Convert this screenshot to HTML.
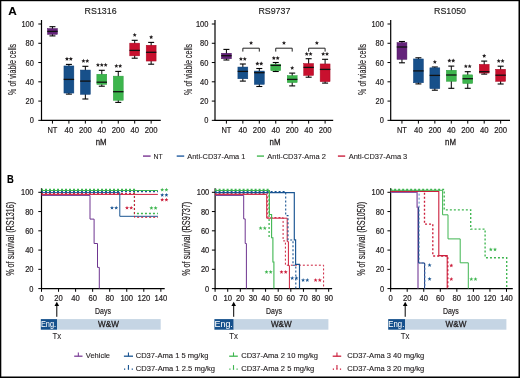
<!DOCTYPE html><html><head><meta charset="utf-8"><style>html,body{margin:0;padding:0;background:#fff;}svg{display:block;will-change:transform;}text{font-family:"Liberation Sans", sans-serif;}</style></head><body>
<svg width="520" height="378" viewBox="0 0 520 378">
<rect x="0" y="0" width="520" height="378" fill="#fff"/>
<text x="8.30" y="14.80" font-size="11.8" text-anchor="start" fill="#000" stroke="#000" stroke-width="0.1" textLength="8.5" lengthAdjust="spacingAndGlyphs" font-weight="bold" >A</text>
<text x="7.00" y="182.50" font-size="11.8" text-anchor="start" fill="#000" stroke="#000" stroke-width="0.15" textLength="6.8" lengthAdjust="spacingAndGlyphs" font-weight="bold" >B</text>
<line x1="41.50" y1="20.00" x2="41.50" y2="120.60" stroke="#000" stroke-width="1.2" />
<line x1="40.90" y1="120.35" x2="160.75" y2="120.35" stroke="#000" stroke-width="1.15" />
<line x1="38.30" y1="120.35" x2="41.50" y2="120.35" stroke="#000" stroke-width="1" />
<text x="33.90" y="123.35" font-size="9" text-anchor="end" fill="#231f20" stroke="#231f20" stroke-width="0.22" textLength="4.15" lengthAdjust="spacingAndGlyphs" >0</text>
<line x1="38.30" y1="101.08" x2="41.50" y2="101.08" stroke="#000" stroke-width="1" />
<text x="33.90" y="104.08" font-size="9" text-anchor="end" fill="#231f20" stroke="#231f20" stroke-width="0.22" textLength="8.3" lengthAdjust="spacingAndGlyphs" >20</text>
<line x1="38.30" y1="81.81" x2="41.50" y2="81.81" stroke="#000" stroke-width="1" />
<text x="33.90" y="84.81" font-size="9" text-anchor="end" fill="#231f20" stroke="#231f20" stroke-width="0.22" textLength="8.3" lengthAdjust="spacingAndGlyphs" >40</text>
<line x1="38.30" y1="62.54" x2="41.50" y2="62.54" stroke="#000" stroke-width="1" />
<text x="33.90" y="65.54" font-size="9" text-anchor="end" fill="#231f20" stroke="#231f20" stroke-width="0.22" textLength="8.3" lengthAdjust="spacingAndGlyphs" >60</text>
<line x1="38.30" y1="43.27" x2="41.50" y2="43.27" stroke="#000" stroke-width="1" />
<text x="33.90" y="46.27" font-size="9" text-anchor="end" fill="#231f20" stroke="#231f20" stroke-width="0.22" textLength="8.3" lengthAdjust="spacingAndGlyphs" >80</text>
<line x1="38.30" y1="24.00" x2="41.50" y2="24.00" stroke="#000" stroke-width="1" />
<text x="33.90" y="27.00" font-size="9" text-anchor="end" fill="#231f20" stroke="#231f20" stroke-width="0.22" textLength="12.45" lengthAdjust="spacingAndGlyphs" >100</text>
<line x1="52.45" y1="120.50" x2="52.45" y2="123.60" stroke="#000" stroke-width="1" />
<text x="52.45" y="132.70" font-size="9" text-anchor="middle" fill="#231f20" stroke="#231f20" stroke-width="0.22" textLength="9.9" lengthAdjust="spacingAndGlyphs" >NT</text>
<line x1="68.90" y1="120.50" x2="68.90" y2="123.60" stroke="#000" stroke-width="1" />
<text x="68.90" y="132.70" font-size="9" text-anchor="middle" fill="#231f20" stroke="#231f20" stroke-width="0.22" textLength="8.6" lengthAdjust="spacingAndGlyphs" >40</text>
<line x1="85.35" y1="120.50" x2="85.35" y2="123.60" stroke="#000" stroke-width="1" />
<text x="85.35" y="132.70" font-size="9" text-anchor="middle" fill="#231f20" stroke="#231f20" stroke-width="0.22" textLength="12.9" lengthAdjust="spacingAndGlyphs" >200</text>
<line x1="101.80" y1="120.50" x2="101.80" y2="123.60" stroke="#000" stroke-width="1" />
<text x="101.80" y="132.70" font-size="9" text-anchor="middle" fill="#231f20" stroke="#231f20" stroke-width="0.22" textLength="8.6" lengthAdjust="spacingAndGlyphs" >40</text>
<line x1="118.25" y1="120.50" x2="118.25" y2="123.60" stroke="#000" stroke-width="1" />
<text x="118.25" y="132.70" font-size="9" text-anchor="middle" fill="#231f20" stroke="#231f20" stroke-width="0.22" textLength="12.9" lengthAdjust="spacingAndGlyphs" >200</text>
<line x1="134.70" y1="120.50" x2="134.70" y2="123.60" stroke="#000" stroke-width="1" />
<text x="134.70" y="132.70" font-size="9" text-anchor="middle" fill="#231f20" stroke="#231f20" stroke-width="0.22" textLength="8.6" lengthAdjust="spacingAndGlyphs" >40</text>
<line x1="151.15" y1="120.50" x2="151.15" y2="123.60" stroke="#000" stroke-width="1" />
<text x="151.15" y="132.70" font-size="9" text-anchor="middle" fill="#231f20" stroke="#231f20" stroke-width="0.22" textLength="12.9" lengthAdjust="spacingAndGlyphs" >200</text>
<text x="101.20" y="145.30" font-size="9.3" text-anchor="middle" fill="#231f20" stroke="#231f20" stroke-width="0.3" textLength="10.9" lengthAdjust="spacingAndGlyphs" >nM</text>
<text x="100.60" y="13.70" font-size="9.9" text-anchor="middle" fill="#222" stroke="#222" stroke-width="0.15" textLength="32" lengthAdjust="spacingAndGlyphs" >RS1316</text>
<text transform="translate(15.6,69.4) rotate(-90)" x="0" y="0" font-size="10.6" text-anchor="middle" fill="#231f20" stroke="#231f20" stroke-width="0.15" textLength="51" lengthAdjust="spacingAndGlyphs">% of viable cells</text>
<line x1="52.45" y1="26.70" x2="52.45" y2="35.90" stroke="#000" stroke-width="1" />
<line x1="49.45" y1="26.70" x2="55.45" y2="26.70" stroke="#000" stroke-width="1.1" />
<line x1="49.45" y1="35.90" x2="55.45" y2="35.90" stroke="#000" stroke-width="1.1" />
<rect x="47.50" y="28.55" width="9.9" height="5.80" fill="#64237a" stroke="#4b1660" stroke-width="0.5"/>
<line x1="47.25" y1="31.40" x2="57.65" y2="31.40" stroke="#111" stroke-width="1.3" />
<line x1="68.90" y1="64.40" x2="68.90" y2="94.10" stroke="#000" stroke-width="1" />
<line x1="65.90" y1="64.40" x2="71.90" y2="64.40" stroke="#000" stroke-width="1.1" />
<line x1="65.90" y1="94.10" x2="71.90" y2="94.10" stroke="#000" stroke-width="1.1" />
<rect x="63.95" y="65.95" width="9.9" height="27.10" fill="#17508a" stroke="#0c3f78" stroke-width="0.5"/>
<line x1="63.70" y1="79.40" x2="74.10" y2="79.40" stroke="#111" stroke-width="1.3" />
<line x1="85.35" y1="66.30" x2="85.35" y2="99.00" stroke="#000" stroke-width="1" />
<line x1="82.35" y1="66.30" x2="88.35" y2="66.30" stroke="#000" stroke-width="1.1" />
<line x1="82.35" y1="99.00" x2="88.35" y2="99.00" stroke="#000" stroke-width="1.1" />
<rect x="80.40" y="70.05" width="9.9" height="24.30" fill="#17508a" stroke="#0c3f78" stroke-width="0.5"/>
<line x1="80.15" y1="81.10" x2="90.55" y2="81.10" stroke="#111" stroke-width="1.3" />
<line x1="101.80" y1="70.30" x2="101.80" y2="86.20" stroke="#000" stroke-width="1" />
<line x1="98.80" y1="70.30" x2="104.80" y2="70.30" stroke="#000" stroke-width="1.1" />
<line x1="98.80" y1="86.20" x2="104.80" y2="86.20" stroke="#000" stroke-width="1.1" />
<rect x="96.85" y="74.25" width="9.9" height="10.10" fill="#3db54d" stroke="#2a9e3c" stroke-width="0.5"/>
<line x1="96.60" y1="82.20" x2="107.00" y2="82.20" stroke="#111" stroke-width="1.3" />
<line x1="118.25" y1="71.40" x2="118.25" y2="102.40" stroke="#000" stroke-width="1" />
<line x1="115.25" y1="71.40" x2="121.25" y2="71.40" stroke="#000" stroke-width="1.1" />
<line x1="115.25" y1="102.40" x2="121.25" y2="102.40" stroke="#000" stroke-width="1.1" />
<rect x="113.30" y="76.15" width="9.9" height="24.10" fill="#3db54d" stroke="#2a9e3c" stroke-width="0.5"/>
<line x1="113.05" y1="91.70" x2="123.45" y2="91.70" stroke="#111" stroke-width="1.3" />
<line x1="134.70" y1="40.30" x2="134.70" y2="58.20" stroke="#000" stroke-width="1" />
<line x1="131.70" y1="40.30" x2="137.70" y2="40.30" stroke="#000" stroke-width="1.1" />
<line x1="131.70" y1="58.20" x2="137.70" y2="58.20" stroke="#000" stroke-width="1.1" />
<rect x="129.75" y="43.15" width="9.9" height="12.70" fill="#c8102e" stroke="#a80a25" stroke-width="0.5"/>
<line x1="129.50" y1="50.40" x2="139.90" y2="50.40" stroke="#111" stroke-width="1.3" />
<line x1="151.15" y1="42.40" x2="151.15" y2="64.20" stroke="#000" stroke-width="1" />
<line x1="148.15" y1="42.40" x2="154.15" y2="42.40" stroke="#000" stroke-width="1.1" />
<line x1="148.15" y1="64.20" x2="154.15" y2="64.20" stroke="#000" stroke-width="1.1" />
<rect x="146.20" y="45.25" width="9.9" height="15.80" fill="#c8102e" stroke="#a80a25" stroke-width="0.5"/>
<line x1="145.95" y1="52.30" x2="156.35" y2="52.30" stroke="#111" stroke-width="1.3" />
<polygon points="66.98,56.75 67.58,58.07 69.02,58.24 67.96,59.22 68.24,60.64 66.98,59.93 65.71,60.64 65.99,59.22 64.93,58.24 66.37,58.07" fill="#231f20"/>
<polygon points="70.83,56.75 71.43,58.07 72.87,58.24 71.81,59.22 72.09,60.64 70.83,59.93 69.56,60.64 69.84,59.22 68.78,58.24 70.22,58.07" fill="#231f20"/>
<polygon points="83.42,58.85 84.03,60.17 85.47,60.34 84.41,61.32 84.69,62.74 83.42,62.03 82.16,62.74 82.44,61.32 81.38,60.34 82.82,60.17" fill="#231f20"/>
<polygon points="87.27,58.85 87.88,60.17 89.32,60.34 88.26,61.32 88.54,62.74 87.27,62.03 86.01,62.74 86.29,61.32 85.23,60.34 86.67,60.17" fill="#231f20"/>
<polygon points="97.95,62.85 98.56,64.17 99.99,64.34 98.93,65.32 99.21,66.74 97.95,66.03 96.69,66.74 96.97,65.32 95.91,64.34 97.34,64.17" fill="#231f20"/>
<polygon points="101.80,62.85 102.41,64.17 103.84,64.34 102.78,65.32 103.06,66.74 101.80,66.03 100.54,66.74 100.82,65.32 99.76,64.34 101.19,64.17" fill="#231f20"/>
<polygon points="105.65,62.85 106.26,64.17 107.69,64.34 106.63,65.32 106.91,66.74 105.65,66.03 104.39,66.74 104.67,65.32 103.61,64.34 105.04,64.17" fill="#231f20"/>
<polygon points="116.33,63.85 116.93,65.17 118.37,65.34 117.31,66.32 117.59,67.74 116.33,67.03 115.06,67.74 115.34,66.32 114.28,65.34 115.72,65.17" fill="#231f20"/>
<polygon points="120.17,63.85 120.78,65.17 122.22,65.34 121.16,66.32 121.44,67.74 120.17,67.03 118.91,67.74 119.19,66.32 118.13,65.34 119.57,65.17" fill="#231f20"/>
<polygon points="134.70,32.85 135.31,34.17 136.74,34.34 135.68,35.32 135.96,36.74 134.70,36.03 133.44,36.74 133.72,35.32 132.66,34.34 134.09,34.17" fill="#231f20"/>
<polygon points="151.15,35.05 151.76,36.37 153.19,36.54 152.13,37.52 152.41,38.94 151.15,38.23 149.89,38.94 150.17,37.52 149.11,36.54 150.54,36.37" fill="#231f20"/>
<line x1="215.00" y1="20.00" x2="215.00" y2="120.60" stroke="#000" stroke-width="1.2" />
<line x1="214.40" y1="120.35" x2="333.20" y2="120.35" stroke="#000" stroke-width="1.15" />
<line x1="211.80" y1="120.35" x2="215.00" y2="120.35" stroke="#000" stroke-width="1" />
<text x="208.40" y="123.35" font-size="9" text-anchor="end" fill="#231f20" stroke="#231f20" stroke-width="0.22" textLength="4.15" lengthAdjust="spacingAndGlyphs" >0</text>
<line x1="211.80" y1="101.08" x2="215.00" y2="101.08" stroke="#000" stroke-width="1" />
<text x="208.40" y="104.08" font-size="9" text-anchor="end" fill="#231f20" stroke="#231f20" stroke-width="0.22" textLength="8.3" lengthAdjust="spacingAndGlyphs" >20</text>
<line x1="211.80" y1="81.81" x2="215.00" y2="81.81" stroke="#000" stroke-width="1" />
<text x="208.40" y="84.81" font-size="9" text-anchor="end" fill="#231f20" stroke="#231f20" stroke-width="0.22" textLength="8.3" lengthAdjust="spacingAndGlyphs" >40</text>
<line x1="211.80" y1="62.54" x2="215.00" y2="62.54" stroke="#000" stroke-width="1" />
<text x="208.40" y="65.54" font-size="9" text-anchor="end" fill="#231f20" stroke="#231f20" stroke-width="0.22" textLength="8.3" lengthAdjust="spacingAndGlyphs" >60</text>
<line x1="211.80" y1="43.27" x2="215.00" y2="43.27" stroke="#000" stroke-width="1" />
<text x="208.40" y="46.27" font-size="9" text-anchor="end" fill="#231f20" stroke="#231f20" stroke-width="0.22" textLength="8.3" lengthAdjust="spacingAndGlyphs" >80</text>
<line x1="211.80" y1="24.00" x2="215.00" y2="24.00" stroke="#000" stroke-width="1" />
<text x="208.40" y="27.00" font-size="9" text-anchor="end" fill="#231f20" stroke="#231f20" stroke-width="0.22" textLength="12.45" lengthAdjust="spacingAndGlyphs" >100</text>
<line x1="226.40" y1="120.50" x2="226.40" y2="123.60" stroke="#000" stroke-width="1" />
<text x="226.40" y="132.70" font-size="9" text-anchor="middle" fill="#231f20" stroke="#231f20" stroke-width="0.22" textLength="9.9" lengthAdjust="spacingAndGlyphs" >NT</text>
<line x1="242.85" y1="120.50" x2="242.85" y2="123.60" stroke="#000" stroke-width="1" />
<text x="242.85" y="132.70" font-size="9" text-anchor="middle" fill="#231f20" stroke="#231f20" stroke-width="0.22" textLength="8.6" lengthAdjust="spacingAndGlyphs" >40</text>
<line x1="259.30" y1="120.50" x2="259.30" y2="123.60" stroke="#000" stroke-width="1" />
<text x="259.30" y="132.70" font-size="9" text-anchor="middle" fill="#231f20" stroke="#231f20" stroke-width="0.22" textLength="12.9" lengthAdjust="spacingAndGlyphs" >200</text>
<line x1="275.75" y1="120.50" x2="275.75" y2="123.60" stroke="#000" stroke-width="1" />
<text x="275.75" y="132.70" font-size="9" text-anchor="middle" fill="#231f20" stroke="#231f20" stroke-width="0.22" textLength="8.6" lengthAdjust="spacingAndGlyphs" >40</text>
<line x1="292.20" y1="120.50" x2="292.20" y2="123.60" stroke="#000" stroke-width="1" />
<text x="292.20" y="132.70" font-size="9" text-anchor="middle" fill="#231f20" stroke="#231f20" stroke-width="0.22" textLength="12.9" lengthAdjust="spacingAndGlyphs" >200</text>
<line x1="308.65" y1="120.50" x2="308.65" y2="123.60" stroke="#000" stroke-width="1" />
<text x="308.65" y="132.70" font-size="9" text-anchor="middle" fill="#231f20" stroke="#231f20" stroke-width="0.22" textLength="8.6" lengthAdjust="spacingAndGlyphs" >40</text>
<line x1="325.10" y1="120.50" x2="325.10" y2="123.60" stroke="#000" stroke-width="1" />
<text x="325.10" y="132.70" font-size="9" text-anchor="middle" fill="#231f20" stroke="#231f20" stroke-width="0.22" textLength="12.9" lengthAdjust="spacingAndGlyphs" >200</text>
<text x="275.00" y="145.30" font-size="9.3" text-anchor="middle" fill="#231f20" stroke="#231f20" stroke-width="0.3" textLength="10.9" lengthAdjust="spacingAndGlyphs" >nM</text>
<text x="274.40" y="13.70" font-size="9.9" text-anchor="middle" fill="#222" stroke="#222" stroke-width="0.15" textLength="32" lengthAdjust="spacingAndGlyphs" >RS9737</text>
<text transform="translate(192.2,69.4) rotate(-90)" x="0" y="0" font-size="10.6" text-anchor="middle" fill="#231f20" stroke="#231f20" stroke-width="0.15" textLength="51" lengthAdjust="spacingAndGlyphs">% of viable cells</text>
<line x1="226.40" y1="49.40" x2="226.40" y2="60.00" stroke="#000" stroke-width="1" />
<line x1="223.40" y1="49.40" x2="229.40" y2="49.40" stroke="#000" stroke-width="1.1" />
<line x1="223.40" y1="60.00" x2="229.40" y2="60.00" stroke="#000" stroke-width="1.1" />
<rect x="221.45" y="53.25" width="9.9" height="5.50" fill="#64237a" stroke="#4b1660" stroke-width="0.5"/>
<line x1="221.20" y1="55.70" x2="231.60" y2="55.70" stroke="#111" stroke-width="1.3" />
<line x1="242.85" y1="64.00" x2="242.85" y2="81.10" stroke="#000" stroke-width="1" />
<line x1="239.85" y1="64.00" x2="245.85" y2="64.00" stroke="#000" stroke-width="1.1" />
<line x1="239.85" y1="81.10" x2="245.85" y2="81.10" stroke="#000" stroke-width="1.1" />
<rect x="237.90" y="67.05" width="9.9" height="11.70" fill="#17508a" stroke="#0c3f78" stroke-width="0.5"/>
<line x1="237.65" y1="71.40" x2="248.05" y2="71.40" stroke="#111" stroke-width="1.3" />
<line x1="259.30" y1="68.50" x2="259.30" y2="86.50" stroke="#000" stroke-width="1" />
<line x1="256.30" y1="68.50" x2="262.30" y2="68.50" stroke="#000" stroke-width="1.1" />
<line x1="256.30" y1="86.50" x2="262.30" y2="86.50" stroke="#000" stroke-width="1.1" />
<rect x="254.35" y="71.05" width="9.9" height="13.30" fill="#17508a" stroke="#0c3f78" stroke-width="0.5"/>
<line x1="254.10" y1="72.70" x2="264.50" y2="72.70" stroke="#111" stroke-width="1.3" />
<line x1="275.75" y1="62.50" x2="275.75" y2="71.50" stroke="#000" stroke-width="1" />
<line x1="272.75" y1="62.50" x2="278.75" y2="62.50" stroke="#000" stroke-width="1.1" />
<line x1="272.75" y1="71.50" x2="278.75" y2="71.50" stroke="#000" stroke-width="1.1" />
<rect x="270.80" y="64.15" width="9.9" height="6.50" fill="#3db54d" stroke="#2a9e3c" stroke-width="0.5"/>
<line x1="270.55" y1="65.40" x2="280.95" y2="65.40" stroke="#111" stroke-width="1.3" />
<line x1="292.20" y1="73.10" x2="292.20" y2="85.90" stroke="#000" stroke-width="1" />
<line x1="289.20" y1="73.10" x2="295.20" y2="73.10" stroke="#000" stroke-width="1.1" />
<line x1="289.20" y1="85.90" x2="295.20" y2="85.90" stroke="#000" stroke-width="1.1" />
<rect x="287.25" y="75.65" width="9.9" height="6.90" fill="#3db54d" stroke="#2a9e3c" stroke-width="0.5"/>
<line x1="287.00" y1="79.40" x2="297.40" y2="79.40" stroke="#111" stroke-width="1.3" />
<line x1="308.65" y1="58.70" x2="308.65" y2="77.20" stroke="#000" stroke-width="1" />
<line x1="305.65" y1="58.70" x2="311.65" y2="58.70" stroke="#000" stroke-width="1.1" />
<line x1="305.65" y1="77.20" x2="311.65" y2="77.20" stroke="#000" stroke-width="1.1" />
<rect x="303.70" y="63.55" width="9.9" height="11.90" fill="#c8102e" stroke="#a80a25" stroke-width="0.5"/>
<line x1="303.45" y1="67.40" x2="313.85" y2="67.40" stroke="#111" stroke-width="1.3" />
<line x1="325.10" y1="59.30" x2="325.10" y2="83.10" stroke="#000" stroke-width="1" />
<line x1="322.10" y1="59.30" x2="328.10" y2="59.30" stroke="#000" stroke-width="1.1" />
<line x1="322.10" y1="83.10" x2="328.10" y2="83.10" stroke="#000" stroke-width="1.1" />
<rect x="320.15" y="63.95" width="9.9" height="17.70" fill="#c8102e" stroke="#a80a25" stroke-width="0.5"/>
<line x1="319.90" y1="69.40" x2="330.30" y2="69.40" stroke="#111" stroke-width="1.3" />
<polygon points="240.92,56.85 241.53,58.17 242.97,58.34 241.91,59.32 242.19,60.74 240.92,60.03 239.66,60.74 239.94,59.32 238.88,58.34 240.32,58.17" fill="#231f20"/>
<polygon points="244.77,56.85 245.38,58.17 246.82,58.34 245.76,59.32 246.04,60.74 244.77,60.03 243.51,60.74 243.79,59.32 242.73,58.34 244.17,58.17" fill="#231f20"/>
<polygon points="257.38,61.55 257.98,62.87 259.42,63.04 258.36,64.02 258.64,65.44 257.38,64.73 256.11,65.44 256.39,64.02 255.33,63.04 256.77,62.87" fill="#231f20"/>
<polygon points="261.23,61.55 261.83,62.87 263.27,63.04 262.21,64.02 262.49,65.44 261.23,64.73 259.96,65.44 260.24,64.02 259.18,63.04 260.62,62.87" fill="#231f20"/>
<polygon points="273.82,55.95 274.43,57.27 275.87,57.44 274.81,58.42 275.09,59.84 273.82,59.13 272.56,59.84 272.84,58.42 271.78,57.44 273.22,57.27" fill="#231f20"/>
<polygon points="277.68,55.95 278.28,57.27 279.72,57.44 278.66,58.42 278.94,59.84 277.68,59.13 276.41,59.84 276.69,58.42 275.63,57.44 277.07,57.27" fill="#231f20"/>
<polygon points="292.20,65.85 292.81,67.17 294.24,67.34 293.18,68.32 293.46,69.74 292.20,69.03 290.94,69.74 291.22,68.32 290.16,67.34 291.59,67.17" fill="#231f20"/>
<polygon points="306.72,51.85 307.33,53.17 308.77,53.34 307.71,54.32 307.99,55.74 306.72,55.03 305.46,55.74 305.74,54.32 304.68,53.34 306.12,53.17" fill="#231f20"/>
<polygon points="310.57,51.85 311.18,53.17 312.62,53.34 311.56,54.32 311.84,55.74 310.57,55.03 309.31,55.74 309.59,54.32 308.53,53.34 309.97,53.17" fill="#231f20"/>
<polygon points="323.18,51.85 323.78,53.17 325.22,53.34 324.16,54.32 324.44,55.74 323.18,55.03 321.91,55.74 322.19,54.32 321.13,53.34 322.57,53.17" fill="#231f20"/>
<polygon points="327.03,51.85 327.63,53.17 329.07,53.34 328.01,54.32 328.29,55.74 327.03,55.03 325.76,55.74 326.04,54.32 324.98,53.34 326.42,53.17" fill="#231f20"/>
<polyline points="242.85,51.60 242.85,48.20 259.30,48.20 259.30,51.60" fill="none" stroke="#222" stroke-width="1" />
<polygon points="251.07,40.85 251.68,42.17 253.12,42.34 252.06,43.32 252.34,44.74 251.07,44.03 249.81,44.74 250.09,43.32 249.03,42.34 250.47,42.17" fill="#231f20"/>
<polyline points="275.75,51.60 275.75,48.20 292.20,48.20 292.20,51.60" fill="none" stroke="#222" stroke-width="1" />
<polygon points="283.98,40.85 284.58,42.17 286.02,42.34 284.96,43.32 285.24,44.74 283.98,44.03 282.71,44.74 282.99,43.32 281.93,42.34 283.37,42.17" fill="#231f20"/>
<polyline points="308.65,51.60 308.65,48.20 325.10,48.20 325.10,51.60" fill="none" stroke="#222" stroke-width="1" />
<polygon points="316.88,40.85 317.48,42.17 318.92,42.34 317.86,43.32 318.14,44.74 316.88,44.03 315.61,44.74 315.89,43.32 314.83,42.34 316.27,42.17" fill="#231f20"/>
<line x1="390.70" y1="20.00" x2="390.70" y2="120.60" stroke="#000" stroke-width="1.2" />
<line x1="390.10" y1="120.35" x2="510.00" y2="120.35" stroke="#000" stroke-width="1.15" />
<line x1="387.50" y1="120.35" x2="390.70" y2="120.35" stroke="#000" stroke-width="1" />
<text x="383.90" y="123.35" font-size="9" text-anchor="end" fill="#231f20" stroke="#231f20" stroke-width="0.22" textLength="4.15" lengthAdjust="spacingAndGlyphs" >0</text>
<line x1="387.50" y1="101.08" x2="390.70" y2="101.08" stroke="#000" stroke-width="1" />
<text x="383.90" y="104.08" font-size="9" text-anchor="end" fill="#231f20" stroke="#231f20" stroke-width="0.22" textLength="8.3" lengthAdjust="spacingAndGlyphs" >20</text>
<line x1="387.50" y1="81.81" x2="390.70" y2="81.81" stroke="#000" stroke-width="1" />
<text x="383.90" y="84.81" font-size="9" text-anchor="end" fill="#231f20" stroke="#231f20" stroke-width="0.22" textLength="8.3" lengthAdjust="spacingAndGlyphs" >40</text>
<line x1="387.50" y1="62.54" x2="390.70" y2="62.54" stroke="#000" stroke-width="1" />
<text x="383.90" y="65.54" font-size="9" text-anchor="end" fill="#231f20" stroke="#231f20" stroke-width="0.22" textLength="8.3" lengthAdjust="spacingAndGlyphs" >60</text>
<line x1="387.50" y1="43.27" x2="390.70" y2="43.27" stroke="#000" stroke-width="1" />
<text x="383.90" y="46.27" font-size="9" text-anchor="end" fill="#231f20" stroke="#231f20" stroke-width="0.22" textLength="8.3" lengthAdjust="spacingAndGlyphs" >80</text>
<line x1="387.50" y1="24.00" x2="390.70" y2="24.00" stroke="#000" stroke-width="1" />
<text x="383.90" y="27.00" font-size="9" text-anchor="end" fill="#231f20" stroke="#231f20" stroke-width="0.22" textLength="12.45" lengthAdjust="spacingAndGlyphs" >100</text>
<line x1="401.95" y1="120.50" x2="401.95" y2="123.60" stroke="#000" stroke-width="1" />
<text x="401.95" y="132.70" font-size="9" text-anchor="middle" fill="#231f20" stroke="#231f20" stroke-width="0.22" textLength="9.9" lengthAdjust="spacingAndGlyphs" >NT</text>
<line x1="418.40" y1="120.50" x2="418.40" y2="123.60" stroke="#000" stroke-width="1" />
<text x="418.40" y="132.70" font-size="9" text-anchor="middle" fill="#231f20" stroke="#231f20" stroke-width="0.22" textLength="8.6" lengthAdjust="spacingAndGlyphs" >40</text>
<line x1="434.85" y1="120.50" x2="434.85" y2="123.60" stroke="#000" stroke-width="1" />
<text x="434.85" y="132.70" font-size="9" text-anchor="middle" fill="#231f20" stroke="#231f20" stroke-width="0.22" textLength="12.9" lengthAdjust="spacingAndGlyphs" >200</text>
<line x1="451.30" y1="120.50" x2="451.30" y2="123.60" stroke="#000" stroke-width="1" />
<text x="451.30" y="132.70" font-size="9" text-anchor="middle" fill="#231f20" stroke="#231f20" stroke-width="0.22" textLength="8.6" lengthAdjust="spacingAndGlyphs" >40</text>
<line x1="467.75" y1="120.50" x2="467.75" y2="123.60" stroke="#000" stroke-width="1" />
<text x="467.75" y="132.70" font-size="9" text-anchor="middle" fill="#231f20" stroke="#231f20" stroke-width="0.22" textLength="12.9" lengthAdjust="spacingAndGlyphs" >200</text>
<line x1="484.20" y1="120.50" x2="484.20" y2="123.60" stroke="#000" stroke-width="1" />
<text x="484.20" y="132.70" font-size="9" text-anchor="middle" fill="#231f20" stroke="#231f20" stroke-width="0.22" textLength="8.6" lengthAdjust="spacingAndGlyphs" >40</text>
<line x1="500.65" y1="120.50" x2="500.65" y2="123.60" stroke="#000" stroke-width="1" />
<text x="500.65" y="132.70" font-size="9" text-anchor="middle" fill="#231f20" stroke="#231f20" stroke-width="0.22" textLength="12.9" lengthAdjust="spacingAndGlyphs" >200</text>
<text x="450.50" y="145.30" font-size="9.3" text-anchor="middle" fill="#231f20" stroke="#231f20" stroke-width="0.3" textLength="10.9" lengthAdjust="spacingAndGlyphs" >nM</text>
<text x="450.00" y="13.70" font-size="9.9" text-anchor="middle" fill="#222" stroke="#222" stroke-width="0.15" textLength="32" lengthAdjust="spacingAndGlyphs" >RS1050</text>
<text transform="translate(366.3,69.4) rotate(-90)" x="0" y="0" font-size="10.6" text-anchor="middle" fill="#231f20" stroke="#231f20" stroke-width="0.15" textLength="51" lengthAdjust="spacingAndGlyphs">% of viable cells</text>
<line x1="401.95" y1="41.50" x2="401.95" y2="62.80" stroke="#000" stroke-width="1" />
<line x1="398.95" y1="41.50" x2="404.95" y2="41.50" stroke="#000" stroke-width="1.1" />
<line x1="398.95" y1="62.80" x2="404.95" y2="62.80" stroke="#000" stroke-width="1.1" />
<rect x="397.00" y="42.65" width="9.9" height="16.70" fill="#64237a" stroke="#4b1660" stroke-width="0.5"/>
<line x1="396.75" y1="47.00" x2="407.15" y2="47.00" stroke="#111" stroke-width="1.3" />
<line x1="418.40" y1="57.80" x2="418.40" y2="83.90" stroke="#000" stroke-width="1" />
<line x1="415.40" y1="57.80" x2="421.40" y2="57.80" stroke="#000" stroke-width="1.1" />
<line x1="415.40" y1="83.90" x2="421.40" y2="83.90" stroke="#000" stroke-width="1.1" />
<rect x="413.45" y="58.95" width="9.9" height="23.80" fill="#17508a" stroke="#0c3f78" stroke-width="0.5"/>
<line x1="413.20" y1="70.90" x2="423.60" y2="70.90" stroke="#111" stroke-width="1.3" />
<line x1="434.85" y1="67.00" x2="434.85" y2="90.20" stroke="#000" stroke-width="1" />
<line x1="431.85" y1="67.00" x2="437.85" y2="67.00" stroke="#000" stroke-width="1.1" />
<line x1="431.85" y1="90.20" x2="437.85" y2="90.20" stroke="#000" stroke-width="1.1" />
<rect x="429.90" y="67.85" width="9.9" height="20.80" fill="#17508a" stroke="#0c3f78" stroke-width="0.5"/>
<line x1="429.65" y1="75.40" x2="440.05" y2="75.40" stroke="#111" stroke-width="1.3" />
<line x1="451.30" y1="66.10" x2="451.30" y2="88.30" stroke="#000" stroke-width="1" />
<line x1="448.30" y1="66.10" x2="454.30" y2="66.10" stroke="#000" stroke-width="1.1" />
<line x1="448.30" y1="88.30" x2="454.30" y2="88.30" stroke="#000" stroke-width="1.1" />
<rect x="446.35" y="70.25" width="9.9" height="11.00" fill="#3db54d" stroke="#2a9e3c" stroke-width="0.5"/>
<line x1="446.10" y1="75.00" x2="456.50" y2="75.00" stroke="#111" stroke-width="1.3" />
<line x1="467.75" y1="71.70" x2="467.75" y2="88.30" stroke="#000" stroke-width="1" />
<line x1="464.75" y1="71.70" x2="470.75" y2="71.70" stroke="#000" stroke-width="1.1" />
<line x1="464.75" y1="88.30" x2="470.75" y2="88.30" stroke="#000" stroke-width="1.1" />
<rect x="462.80" y="74.85" width="9.9" height="8.60" fill="#3db54d" stroke="#2a9e3c" stroke-width="0.5"/>
<line x1="462.55" y1="78.70" x2="472.95" y2="78.70" stroke="#111" stroke-width="1.3" />
<line x1="484.20" y1="61.10" x2="484.20" y2="74.10" stroke="#000" stroke-width="1" />
<line x1="481.20" y1="61.10" x2="487.20" y2="61.10" stroke="#000" stroke-width="1.1" />
<line x1="481.20" y1="74.10" x2="487.20" y2="74.10" stroke="#000" stroke-width="1.1" />
<rect x="479.25" y="64.35" width="9.9" height="8.70" fill="#c8102e" stroke="#a80a25" stroke-width="0.5"/>
<line x1="479.00" y1="71.70" x2="489.40" y2="71.70" stroke="#111" stroke-width="1.3" />
<line x1="500.65" y1="66.20" x2="500.65" y2="84.00" stroke="#000" stroke-width="1" />
<line x1="497.65" y1="66.20" x2="503.65" y2="66.20" stroke="#000" stroke-width="1.1" />
<line x1="497.65" y1="84.00" x2="503.65" y2="84.00" stroke="#000" stroke-width="1.1" />
<rect x="495.70" y="69.25" width="9.9" height="12.10" fill="#c8102e" stroke="#a80a25" stroke-width="0.5"/>
<line x1="495.45" y1="75.20" x2="505.85" y2="75.20" stroke="#111" stroke-width="1.3" />
<polygon points="434.85,59.85 435.46,61.17 436.89,61.34 435.83,62.32 436.11,63.74 434.85,63.03 433.59,63.74 433.87,62.32 432.81,61.34 434.24,61.17" fill="#231f20"/>
<polygon points="449.37,58.55 449.98,59.87 451.42,60.04 450.36,61.02 450.64,62.44 449.37,61.73 448.11,62.44 448.39,61.02 447.33,60.04 448.77,59.87" fill="#231f20"/>
<polygon points="453.22,58.55 453.83,59.87 455.27,60.04 454.21,61.02 454.49,62.44 453.22,61.73 451.96,62.44 452.24,61.02 451.18,60.04 452.62,59.87" fill="#231f20"/>
<polygon points="465.82,64.15 466.43,65.47 467.87,65.64 466.81,66.62 467.09,68.04 465.82,67.33 464.56,68.04 464.84,66.62 463.78,65.64 465.22,65.47" fill="#231f20"/>
<polygon points="469.68,64.15 470.28,65.47 471.72,65.64 470.66,66.62 470.94,68.04 469.68,67.33 468.41,68.04 468.69,66.62 467.63,65.64 469.07,65.47" fill="#231f20"/>
<polygon points="484.20,53.75 484.81,55.07 486.24,55.24 485.18,56.22 485.46,57.64 484.20,56.93 482.94,57.64 483.22,56.22 482.16,55.24 483.59,55.07" fill="#231f20"/>
<polygon points="498.72,58.85 499.33,60.17 500.77,60.34 499.71,61.32 499.99,62.74 498.72,62.03 497.46,62.74 497.74,61.32 496.68,60.34 498.12,60.17" fill="#231f20"/>
<polygon points="502.57,58.85 503.18,60.17 504.62,60.34 503.56,61.32 503.84,62.74 502.57,62.03 501.31,62.74 501.59,61.32 500.53,60.34 501.97,60.17" fill="#231f20"/>
<line x1="143.00" y1="156.10" x2="150.60" y2="156.10" stroke="#8a4d9f" stroke-width="1.6" />
<text x="153.50" y="158.50" font-size="7.8" text-anchor="start" fill="#231f20" stroke="#231f20" stroke-width="0.1" textLength="9.2" lengthAdjust="spacingAndGlyphs" >NT</text>
<line x1="176.70" y1="156.10" x2="184.20" y2="156.10" stroke="#3f72ad" stroke-width="1.6" />
<text x="187.30" y="158.50" font-size="7.8" text-anchor="start" fill="#231f20" stroke="#231f20" stroke-width="0.1" textLength="58.1" lengthAdjust="spacingAndGlyphs" >Anti-CD37-Ama 1</text>
<line x1="256.90" y1="156.10" x2="264.00" y2="156.10" stroke="#5cc268" stroke-width="1.6" />
<text x="267.30" y="158.50" font-size="7.8" text-anchor="start" fill="#231f20" stroke="#231f20" stroke-width="0.1" textLength="58.7" lengthAdjust="spacingAndGlyphs" >Anti-CD37-Ama 2</text>
<line x1="337.90" y1="156.10" x2="345.20" y2="156.10" stroke="#d23c55" stroke-width="1.6" />
<text x="348.70" y="158.50" font-size="7.8" text-anchor="start" fill="#231f20" stroke="#231f20" stroke-width="0.1" textLength="58.6" lengthAdjust="spacingAndGlyphs" >Anti-CD37-Ama 3</text>
<line x1="41.50" y1="188.30" x2="41.50" y2="289.20" stroke="#000" stroke-width="1.2" />
<line x1="40.90" y1="288.60" x2="164.70" y2="288.60" stroke="#000" stroke-width="1.2" />
<line x1="38.30" y1="288.60" x2="41.50" y2="288.60" stroke="#000" stroke-width="1" />
<text x="33.50" y="291.60" font-size="9" text-anchor="end" fill="#231f20" stroke="#231f20" stroke-width="0.22" textLength="4.15" lengthAdjust="spacingAndGlyphs" >0</text>
<line x1="38.30" y1="269.34" x2="41.50" y2="269.34" stroke="#000" stroke-width="1" />
<text x="33.50" y="272.34" font-size="9" text-anchor="end" fill="#231f20" stroke="#231f20" stroke-width="0.22" textLength="8.3" lengthAdjust="spacingAndGlyphs" >20</text>
<line x1="38.30" y1="250.08" x2="41.50" y2="250.08" stroke="#000" stroke-width="1" />
<text x="33.50" y="253.08" font-size="9" text-anchor="end" fill="#231f20" stroke="#231f20" stroke-width="0.22" textLength="8.3" lengthAdjust="spacingAndGlyphs" >40</text>
<line x1="38.30" y1="230.82" x2="41.50" y2="230.82" stroke="#000" stroke-width="1" />
<text x="33.50" y="233.82" font-size="9" text-anchor="end" fill="#231f20" stroke="#231f20" stroke-width="0.22" textLength="8.3" lengthAdjust="spacingAndGlyphs" >60</text>
<line x1="38.30" y1="211.56" x2="41.50" y2="211.56" stroke="#000" stroke-width="1" />
<text x="33.50" y="214.56" font-size="9" text-anchor="end" fill="#231f20" stroke="#231f20" stroke-width="0.22" textLength="8.3" lengthAdjust="spacingAndGlyphs" >80</text>
<line x1="38.30" y1="192.30" x2="41.50" y2="192.30" stroke="#000" stroke-width="1" />
<text x="33.50" y="195.30" font-size="9" text-anchor="end" fill="#231f20" stroke="#231f20" stroke-width="0.22" textLength="12.45" lengthAdjust="spacingAndGlyphs" >100</text>
<line x1="41.50" y1="288.60" x2="41.50" y2="291.80" stroke="#000" stroke-width="1" />
<text x="41.50" y="300.80" font-size="9" text-anchor="middle" fill="#231f20" stroke="#231f20" stroke-width="0.22" textLength="4.25" lengthAdjust="spacingAndGlyphs" >0</text>
<line x1="58.55" y1="288.60" x2="58.55" y2="291.80" stroke="#000" stroke-width="1" />
<text x="58.55" y="300.80" font-size="9" text-anchor="middle" fill="#231f20" stroke="#231f20" stroke-width="0.22" textLength="8.5" lengthAdjust="spacingAndGlyphs" >20</text>
<line x1="75.60" y1="288.60" x2="75.60" y2="291.80" stroke="#000" stroke-width="1" />
<text x="75.60" y="300.80" font-size="9" text-anchor="middle" fill="#231f20" stroke="#231f20" stroke-width="0.22" textLength="8.5" lengthAdjust="spacingAndGlyphs" >40</text>
<line x1="92.65" y1="288.60" x2="92.65" y2="291.80" stroke="#000" stroke-width="1" />
<text x="92.65" y="300.80" font-size="9" text-anchor="middle" fill="#231f20" stroke="#231f20" stroke-width="0.22" textLength="8.5" lengthAdjust="spacingAndGlyphs" >60</text>
<line x1="109.70" y1="288.60" x2="109.70" y2="291.80" stroke="#000" stroke-width="1" />
<text x="109.70" y="300.80" font-size="9" text-anchor="middle" fill="#231f20" stroke="#231f20" stroke-width="0.22" textLength="8.5" lengthAdjust="spacingAndGlyphs" >80</text>
<line x1="126.75" y1="288.60" x2="126.75" y2="291.80" stroke="#000" stroke-width="1" />
<text x="126.75" y="300.80" font-size="9" text-anchor="middle" fill="#231f20" stroke="#231f20" stroke-width="0.22" textLength="12.75" lengthAdjust="spacingAndGlyphs" >100</text>
<line x1="143.80" y1="288.60" x2="143.80" y2="291.80" stroke="#000" stroke-width="1" />
<text x="143.80" y="300.80" font-size="9" text-anchor="middle" fill="#231f20" stroke="#231f20" stroke-width="0.22" textLength="12.75" lengthAdjust="spacingAndGlyphs" >120</text>
<line x1="160.85" y1="288.60" x2="160.85" y2="291.80" stroke="#000" stroke-width="1" />
<text x="160.85" y="300.80" font-size="9" text-anchor="middle" fill="#231f20" stroke="#231f20" stroke-width="0.22" textLength="12.75" lengthAdjust="spacingAndGlyphs" >140</text>
<text x="103.00" y="313.90" font-size="9" text-anchor="middle" fill="#231f20" stroke="#231f20" stroke-width="0.2" textLength="15.8" lengthAdjust="spacingAndGlyphs" >Days</text>
<text transform="translate(13.6,238.85) rotate(-90)" x="0" y="0" font-size="10" text-anchor="middle" fill="#231f20" stroke="#231f20" stroke-width="0.2" textLength="74" lengthAdjust="spacingAndGlyphs">% of survival (RS1316)</text>
<line x1="56.80" y1="305.00" x2="56.80" y2="316.80" stroke="#000" stroke-width="1" />
<polygon points="56.80,301.8 54.50,306.0 59.10,306.0" fill="#000"/>
<rect x="40.8" y="319.1" width="16.20" height="10.6" fill="#15508c"/>
<rect x="57.0" y="319.1" width="103.70" height="10.6" fill="#c5d5e4"/>
<text x="40.90" y="327.20" font-size="9.3" text-anchor="start" fill="#fff" stroke="#fff" stroke-width="0.05" textLength="15.2" lengthAdjust="spacingAndGlyphs" >Eng.</text>
<text x="108.50" y="327.30" font-size="8.2" text-anchor="middle" fill="#231f20" stroke="#231f20" stroke-width="0.28" textLength="20.8" lengthAdjust="spacingAndGlyphs" >W&amp;W</text>
<text x="56.80" y="338.70" font-size="8.8" text-anchor="middle" fill="#231f20" stroke="#231f20" stroke-width="0.08" textLength="8.7" lengthAdjust="spacingAndGlyphs" >Tx</text>
<line x1="215.10" y1="188.30" x2="215.10" y2="289.20" stroke="#000" stroke-width="1.2" />
<line x1="214.50" y1="288.60" x2="332.10" y2="288.60" stroke="#000" stroke-width="1.2" />
<line x1="211.90" y1="288.60" x2="215.10" y2="288.60" stroke="#000" stroke-width="1" />
<text x="209.20" y="291.60" font-size="9" text-anchor="end" fill="#231f20" stroke="#231f20" stroke-width="0.22" textLength="4.15" lengthAdjust="spacingAndGlyphs" >0</text>
<line x1="211.90" y1="269.34" x2="215.10" y2="269.34" stroke="#000" stroke-width="1" />
<text x="209.20" y="272.34" font-size="9" text-anchor="end" fill="#231f20" stroke="#231f20" stroke-width="0.22" textLength="8.3" lengthAdjust="spacingAndGlyphs" >20</text>
<line x1="211.90" y1="250.08" x2="215.10" y2="250.08" stroke="#000" stroke-width="1" />
<text x="209.20" y="253.08" font-size="9" text-anchor="end" fill="#231f20" stroke="#231f20" stroke-width="0.22" textLength="8.3" lengthAdjust="spacingAndGlyphs" >40</text>
<line x1="211.90" y1="230.82" x2="215.10" y2="230.82" stroke="#000" stroke-width="1" />
<text x="209.20" y="233.82" font-size="9" text-anchor="end" fill="#231f20" stroke="#231f20" stroke-width="0.22" textLength="8.3" lengthAdjust="spacingAndGlyphs" >60</text>
<line x1="211.90" y1="211.56" x2="215.10" y2="211.56" stroke="#000" stroke-width="1" />
<text x="209.20" y="214.56" font-size="9" text-anchor="end" fill="#231f20" stroke="#231f20" stroke-width="0.22" textLength="8.3" lengthAdjust="spacingAndGlyphs" >80</text>
<line x1="211.90" y1="192.30" x2="215.10" y2="192.30" stroke="#000" stroke-width="1" />
<text x="209.20" y="195.30" font-size="9" text-anchor="end" fill="#231f20" stroke="#231f20" stroke-width="0.22" textLength="12.45" lengthAdjust="spacingAndGlyphs" >100</text>
<line x1="215.10" y1="288.60" x2="215.10" y2="291.80" stroke="#000" stroke-width="1" />
<text x="215.10" y="300.80" font-size="9" text-anchor="middle" fill="#231f20" stroke="#231f20" stroke-width="0.22" textLength="4.25" lengthAdjust="spacingAndGlyphs" >0</text>
<line x1="227.72" y1="288.60" x2="227.72" y2="291.80" stroke="#000" stroke-width="1" />
<text x="227.72" y="300.80" font-size="9" text-anchor="middle" fill="#231f20" stroke="#231f20" stroke-width="0.22" textLength="8.5" lengthAdjust="spacingAndGlyphs" >10</text>
<line x1="240.34" y1="288.60" x2="240.34" y2="291.80" stroke="#000" stroke-width="1" />
<text x="240.34" y="300.80" font-size="9" text-anchor="middle" fill="#231f20" stroke="#231f20" stroke-width="0.22" textLength="8.5" lengthAdjust="spacingAndGlyphs" >20</text>
<line x1="252.96" y1="288.60" x2="252.96" y2="291.80" stroke="#000" stroke-width="1" />
<text x="252.96" y="300.80" font-size="9" text-anchor="middle" fill="#231f20" stroke="#231f20" stroke-width="0.22" textLength="8.5" lengthAdjust="spacingAndGlyphs" >30</text>
<line x1="265.58" y1="288.60" x2="265.58" y2="291.80" stroke="#000" stroke-width="1" />
<text x="265.58" y="300.80" font-size="9" text-anchor="middle" fill="#231f20" stroke="#231f20" stroke-width="0.22" textLength="8.5" lengthAdjust="spacingAndGlyphs" >40</text>
<line x1="278.20" y1="288.60" x2="278.20" y2="291.80" stroke="#000" stroke-width="1" />
<text x="278.20" y="300.80" font-size="9" text-anchor="middle" fill="#231f20" stroke="#231f20" stroke-width="0.22" textLength="8.5" lengthAdjust="spacingAndGlyphs" >50</text>
<line x1="290.82" y1="288.60" x2="290.82" y2="291.80" stroke="#000" stroke-width="1" />
<text x="290.82" y="300.80" font-size="9" text-anchor="middle" fill="#231f20" stroke="#231f20" stroke-width="0.22" textLength="8.5" lengthAdjust="spacingAndGlyphs" >60</text>
<line x1="303.44" y1="288.60" x2="303.44" y2="291.80" stroke="#000" stroke-width="1" />
<text x="303.44" y="300.80" font-size="9" text-anchor="middle" fill="#231f20" stroke="#231f20" stroke-width="0.22" textLength="8.5" lengthAdjust="spacingAndGlyphs" >70</text>
<line x1="316.06" y1="288.60" x2="316.06" y2="291.80" stroke="#000" stroke-width="1" />
<text x="316.06" y="300.80" font-size="9" text-anchor="middle" fill="#231f20" stroke="#231f20" stroke-width="0.22" textLength="8.5" lengthAdjust="spacingAndGlyphs" >80</text>
<line x1="328.68" y1="288.60" x2="328.68" y2="291.80" stroke="#000" stroke-width="1" />
<text x="328.68" y="300.80" font-size="9" text-anchor="middle" fill="#231f20" stroke="#231f20" stroke-width="0.22" textLength="8.5" lengthAdjust="spacingAndGlyphs" >90</text>
<text x="274.00" y="313.90" font-size="9" text-anchor="middle" fill="#231f20" stroke="#231f20" stroke-width="0.2" textLength="15.8" lengthAdjust="spacingAndGlyphs" >Days</text>
<text transform="translate(190.1,238.85) rotate(-90)" x="0" y="0" font-size="10" text-anchor="middle" fill="#231f20" stroke="#231f20" stroke-width="0.2" textLength="74" lengthAdjust="spacingAndGlyphs">% of survival (RS9737)</text>
<line x1="233.70" y1="305.00" x2="233.70" y2="316.80" stroke="#000" stroke-width="1" />
<polygon points="233.70,301.8 231.40,306.0 236.00,306.0" fill="#000"/>
<rect x="214.4" y="319.1" width="19.30" height="10.6" fill="#15508c"/>
<rect x="233.7" y="319.1" width="94.70" height="10.6" fill="#c5d5e4"/>
<text x="214.50" y="327.20" font-size="9.3" text-anchor="start" fill="#fff" stroke="#fff" stroke-width="0.05" textLength="18.3" lengthAdjust="spacingAndGlyphs" >Eng.</text>
<text x="281.30" y="327.30" font-size="8.2" text-anchor="middle" fill="#231f20" stroke="#231f20" stroke-width="0.28" textLength="20.8" lengthAdjust="spacingAndGlyphs" >W&amp;W</text>
<text x="233.70" y="338.70" font-size="8.8" text-anchor="middle" fill="#231f20" stroke="#231f20" stroke-width="0.08" textLength="8.7" lengthAdjust="spacingAndGlyphs" >Tx</text>
<line x1="390.65" y1="188.30" x2="390.65" y2="289.20" stroke="#000" stroke-width="1.2" />
<line x1="390.05" y1="288.60" x2="512.80" y2="288.60" stroke="#000" stroke-width="1.2" />
<line x1="387.45" y1="288.60" x2="390.65" y2="288.60" stroke="#000" stroke-width="1" />
<text x="384.05" y="291.60" font-size="9" text-anchor="end" fill="#231f20" stroke="#231f20" stroke-width="0.22" textLength="4.15" lengthAdjust="spacingAndGlyphs" >0</text>
<line x1="387.45" y1="269.34" x2="390.65" y2="269.34" stroke="#000" stroke-width="1" />
<text x="384.05" y="272.34" font-size="9" text-anchor="end" fill="#231f20" stroke="#231f20" stroke-width="0.22" textLength="8.3" lengthAdjust="spacingAndGlyphs" >20</text>
<line x1="387.45" y1="250.08" x2="390.65" y2="250.08" stroke="#000" stroke-width="1" />
<text x="384.05" y="253.08" font-size="9" text-anchor="end" fill="#231f20" stroke="#231f20" stroke-width="0.22" textLength="8.3" lengthAdjust="spacingAndGlyphs" >40</text>
<line x1="387.45" y1="230.82" x2="390.65" y2="230.82" stroke="#000" stroke-width="1" />
<text x="384.05" y="233.82" font-size="9" text-anchor="end" fill="#231f20" stroke="#231f20" stroke-width="0.22" textLength="8.3" lengthAdjust="spacingAndGlyphs" >60</text>
<line x1="387.45" y1="211.56" x2="390.65" y2="211.56" stroke="#000" stroke-width="1" />
<text x="384.05" y="214.56" font-size="9" text-anchor="end" fill="#231f20" stroke="#231f20" stroke-width="0.22" textLength="8.3" lengthAdjust="spacingAndGlyphs" >80</text>
<line x1="387.45" y1="192.30" x2="390.65" y2="192.30" stroke="#000" stroke-width="1" />
<text x="384.05" y="195.30" font-size="9" text-anchor="end" fill="#231f20" stroke="#231f20" stroke-width="0.22" textLength="12.45" lengthAdjust="spacingAndGlyphs" >100</text>
<line x1="390.65" y1="288.60" x2="390.65" y2="291.80" stroke="#000" stroke-width="1" />
<text x="390.65" y="300.80" font-size="9" text-anchor="middle" fill="#231f20" stroke="#231f20" stroke-width="0.22" textLength="4.25" lengthAdjust="spacingAndGlyphs" >0</text>
<line x1="407.20" y1="288.60" x2="407.20" y2="291.80" stroke="#000" stroke-width="1" />
<text x="407.20" y="300.80" font-size="9" text-anchor="middle" fill="#231f20" stroke="#231f20" stroke-width="0.22" textLength="8.5" lengthAdjust="spacingAndGlyphs" >20</text>
<line x1="423.75" y1="288.60" x2="423.75" y2="291.80" stroke="#000" stroke-width="1" />
<text x="423.75" y="300.80" font-size="9" text-anchor="middle" fill="#231f20" stroke="#231f20" stroke-width="0.22" textLength="8.5" lengthAdjust="spacingAndGlyphs" >40</text>
<line x1="440.30" y1="288.60" x2="440.30" y2="291.80" stroke="#000" stroke-width="1" />
<text x="440.30" y="300.80" font-size="9" text-anchor="middle" fill="#231f20" stroke="#231f20" stroke-width="0.22" textLength="8.5" lengthAdjust="spacingAndGlyphs" >60</text>
<line x1="456.85" y1="288.60" x2="456.85" y2="291.80" stroke="#000" stroke-width="1" />
<text x="456.85" y="300.80" font-size="9" text-anchor="middle" fill="#231f20" stroke="#231f20" stroke-width="0.22" textLength="8.5" lengthAdjust="spacingAndGlyphs" >80</text>
<line x1="473.40" y1="288.60" x2="473.40" y2="291.80" stroke="#000" stroke-width="1" />
<text x="473.40" y="300.80" font-size="9" text-anchor="middle" fill="#231f20" stroke="#231f20" stroke-width="0.22" textLength="12.75" lengthAdjust="spacingAndGlyphs" >100</text>
<line x1="489.95" y1="288.60" x2="489.95" y2="291.80" stroke="#000" stroke-width="1" />
<text x="489.95" y="300.80" font-size="9" text-anchor="middle" fill="#231f20" stroke="#231f20" stroke-width="0.22" textLength="12.75" lengthAdjust="spacingAndGlyphs" >120</text>
<line x1="506.50" y1="288.60" x2="506.50" y2="291.80" stroke="#000" stroke-width="1" />
<text x="506.50" y="300.80" font-size="9" text-anchor="middle" fill="#231f20" stroke="#231f20" stroke-width="0.22" textLength="12.75" lengthAdjust="spacingAndGlyphs" >140</text>
<text x="450.80" y="313.90" font-size="9" text-anchor="middle" fill="#231f20" stroke="#231f20" stroke-width="0.2" textLength="15.8" lengthAdjust="spacingAndGlyphs" >Days</text>
<text transform="translate(365.2,238.85) rotate(-90)" x="0" y="0" font-size="10" text-anchor="middle" fill="#231f20" stroke="#231f20" stroke-width="0.2" textLength="74" lengthAdjust="spacingAndGlyphs">% of survival (RS1050)</text>
<line x1="405.20" y1="305.00" x2="405.20" y2="316.80" stroke="#000" stroke-width="1" />
<polygon points="405.20,301.8 402.90,306.0 407.50,306.0" fill="#000"/>
<rect x="388.2" y="319.1" width="17.00" height="10.6" fill="#15508c"/>
<rect x="405.2" y="319.1" width="101.20" height="10.6" fill="#c5d5e4"/>
<text x="388.30" y="327.20" font-size="9.3" text-anchor="start" fill="#fff" stroke="#fff" stroke-width="0.05" textLength="16.0" lengthAdjust="spacingAndGlyphs" >Eng.</text>
<text x="456.00" y="327.30" font-size="8.2" text-anchor="middle" fill="#231f20" stroke="#231f20" stroke-width="0.28" textLength="20.8" lengthAdjust="spacingAndGlyphs" >W&amp;W</text>
<text x="405.20" y="338.70" font-size="8.8" text-anchor="middle" fill="#231f20" stroke="#231f20" stroke-width="0.08" textLength="8.7" lengthAdjust="spacingAndGlyphs" >Tx</text>
<polyline points="41.50,195.40 90.00,195.40 90.00,219.10 94.10,219.10 94.10,243.50 97.50,243.50 97.50,267.40 99.30,267.40 99.30,288.60" fill="none" stroke="#6e3590" stroke-width="1.0" />
<polyline points="41.50,194.40 157.90,194.40" fill="none" stroke="#cc1f3c" stroke-width="1.0" />
<polyline points="41.50,192.60 119.80,192.60 119.80,216.30 157.90,216.30" fill="none" stroke="#1a5592" stroke-width="1.0" />
<polyline points="41.50,191.60 157.90,191.60" fill="none" stroke="#1a5592" stroke-width="1.1" stroke-dasharray="2 2" stroke-dashoffset="0.5"/>
<polyline points="41.50,190.50 157.90,190.50" fill="none" stroke="#3fb650" stroke-width="1.0" />
<polyline points="41.50,189.45 134.40,189.45 134.40,213.50 157.90,213.50" fill="none" stroke="#3fb650" stroke-width="1.3" stroke-dasharray="2 2" stroke-dashoffset="0.5"/>
<polyline points="41.50,193.45 134.50,193.45 134.50,217.30 157.90,217.30" fill="none" stroke="#cc1f3c" stroke-width="1.0" stroke-dasharray="2 2" stroke-dashoffset="0.5"/>
<polygon points="112.00,205.80 112.54,207.15 114.00,207.25 112.88,208.19 113.23,209.60 112.00,208.82 110.77,209.60 111.12,208.19 110.00,207.25 111.46,207.15" fill="#1a5592"/>
<polygon points="116.20,205.80 116.74,207.15 118.20,207.25 117.08,208.19 117.43,209.60 116.20,208.82 114.97,209.60 115.32,208.19 114.20,207.25 115.66,207.15" fill="#1a5592"/>
<polygon points="127.00,205.80 127.54,207.15 129.00,207.25 127.88,208.19 128.23,209.60 127.00,208.82 125.77,209.60 126.12,208.19 125.00,207.25 126.46,207.15" fill="#cc1f3c"/>
<polygon points="131.20,205.80 131.74,207.15 133.20,207.25 132.08,208.19 132.43,209.60 131.20,208.82 129.97,209.60 130.32,208.19 129.20,207.25 130.66,207.15" fill="#cc1f3c"/>
<polygon points="151.40,206.00 151.94,207.35 153.40,207.45 152.28,208.39 152.63,209.80 151.40,209.02 150.17,209.80 150.52,208.39 149.40,207.45 150.86,207.35" fill="#3fb650"/>
<polygon points="155.60,206.00 156.14,207.35 157.60,207.45 156.48,208.39 156.83,209.80 155.60,209.02 154.37,209.80 154.72,208.39 153.60,207.45 155.06,207.35" fill="#3fb650"/>
<polygon points="162.20,187.70 162.74,189.05 164.20,189.15 163.08,190.09 163.43,191.50 162.20,190.72 160.97,191.50 161.32,190.09 160.20,189.15 161.66,189.05" fill="#3fb650"/>
<polygon points="166.40,187.70 166.94,189.05 168.40,189.15 167.28,190.09 167.63,191.50 166.40,190.72 165.17,191.50 165.52,190.09 164.40,189.15 165.86,189.05" fill="#3fb650"/>
<polygon points="162.20,192.90 162.74,194.25 164.20,194.35 163.08,195.29 163.43,196.70 162.20,195.92 160.97,196.70 161.32,195.29 160.20,194.35 161.66,194.25" fill="#1a5592"/>
<polygon points="166.40,192.90 166.94,194.25 168.40,194.35 167.28,195.29 167.63,196.70 166.40,195.92 165.17,196.70 165.52,195.29 164.40,194.35 165.86,194.25" fill="#1a5592"/>
<polygon points="162.20,197.70 162.74,199.05 164.20,199.15 163.08,200.09 163.43,201.50 162.20,200.72 160.97,201.50 161.32,200.09 160.20,199.15 161.66,199.05" fill="#cc1f3c"/>
<polygon points="166.40,197.70 166.94,199.05 168.40,199.15 167.28,200.09 167.63,201.50 166.40,200.72 165.17,201.50 165.52,200.09 164.40,199.15 165.86,199.05" fill="#cc1f3c"/>
<polyline points="215.10,195.40 243.70,195.40 243.70,218.90 245.20,218.90 245.20,243.50 246.40,243.50 246.40,288.60" fill="none" stroke="#6e3590" stroke-width="1.0" />
<polyline points="215.10,194.40 266.70,194.40 266.70,218.20 287.20,218.20 287.20,241.60 288.40,241.60 288.40,265.60 289.40,265.60 289.40,288.60" fill="none" stroke="#cc1f3c" stroke-width="1.0" />
<polyline points="215.10,193.45 267.70,193.45 267.70,217.60 283.10,217.60 283.10,240.90 285.40,240.90 285.40,265.20 323.60,265.20 323.60,288.60" fill="none" stroke="#cc1f3c" stroke-width="1.0" stroke-dasharray="2 2" stroke-dashoffset="0.5"/>
<polyline points="215.10,192.60 294.30,192.60 294.30,239.80 295.60,239.80 295.60,264.30 299.50,264.30 299.50,288.60" fill="none" stroke="#1a5592" stroke-width="1.15" />
<polyline points="215.10,191.60 285.70,191.60 285.70,215.60 288.00,215.60 288.00,240.00 293.00,240.00 293.00,265.30 295.80,265.30 295.80,288.60" fill="none" stroke="#1a5592" stroke-width="1.1" stroke-dasharray="2 2" stroke-dashoffset="0.5"/>
<polyline points="215.10,190.50 269.40,190.50 269.40,214.50 271.60,214.50 271.60,237.80 272.90,237.80 272.90,262.00 273.90,262.00 273.90,288.60" fill="none" stroke="#3fb650" stroke-width="1.1" />
<polyline points="215.10,189.45 269.10,189.45 269.10,237.30" fill="none" stroke="#3fb650" stroke-width="1.3" stroke-dasharray="2 2" stroke-dashoffset="0.5"/>
<polygon points="260.60,226.10 261.14,227.45 262.60,227.55 261.48,228.49 261.83,229.90 260.60,229.12 259.37,229.90 259.72,228.49 258.60,227.55 260.06,227.45" fill="#3fb650"/>
<polygon points="264.80,226.10 265.34,227.45 266.80,227.55 265.68,228.49 266.03,229.90 264.80,229.12 263.57,229.90 263.92,228.49 262.80,227.55 264.26,227.45" fill="#3fb650"/>
<polygon points="266.50,269.90 267.04,271.25 268.50,271.35 267.38,272.29 267.73,273.70 266.50,272.92 265.27,273.70 265.62,272.29 264.50,271.35 265.96,271.25" fill="#3fb650"/>
<polygon points="270.70,269.90 271.24,271.25 272.70,271.35 271.58,272.29 271.93,273.70 270.70,272.92 269.47,273.70 269.82,272.29 268.70,271.35 270.16,271.25" fill="#3fb650"/>
<polygon points="281.50,269.90 282.04,271.25 283.50,271.35 282.38,272.29 282.73,273.70 281.50,272.92 280.27,273.70 280.62,272.29 279.50,271.35 280.96,271.25" fill="#cc1f3c"/>
<polygon points="285.70,269.90 286.24,271.25 287.70,271.35 286.58,272.29 286.93,273.70 285.70,272.92 284.47,273.70 284.82,272.29 283.70,271.35 285.16,271.25" fill="#cc1f3c"/>
<polygon points="292.20,276.10 292.74,277.45 294.20,277.55 293.08,278.49 293.43,279.90 292.20,279.12 290.97,279.90 291.32,278.49 290.20,277.55 291.66,277.45" fill="#1a5592"/>
<polygon points="296.40,276.10 296.94,277.45 298.40,277.55 297.28,278.49 297.63,279.90 296.40,279.12 295.17,279.90 295.52,278.49 294.40,277.55 295.86,277.45" fill="#1a5592"/>
<polygon points="303.10,278.10 303.64,279.45 305.10,279.55 303.98,280.49 304.33,281.90 303.10,281.12 301.87,281.90 302.22,280.49 301.10,279.55 302.56,279.45" fill="#1a5592"/>
<polygon points="307.30,278.10 307.84,279.45 309.30,279.55 308.18,280.49 308.53,281.90 307.30,281.12 306.07,281.90 306.42,280.49 305.30,279.55 306.76,279.45" fill="#1a5592"/>
<polygon points="315.60,278.10 316.14,279.45 317.60,279.55 316.48,280.49 316.83,281.90 315.60,281.12 314.37,281.90 314.72,280.49 313.60,279.55 315.06,279.45" fill="#cc1f3c"/>
<polygon points="319.80,278.10 320.34,279.45 321.80,279.55 320.68,280.49 321.03,281.90 319.80,281.12 318.57,281.90 318.92,280.49 317.80,279.55 319.26,279.45" fill="#cc1f3c"/>
<polyline points="390.65,192.40 417.10,192.40 417.10,207.20 418.00,207.20 418.00,288.60" fill="none" stroke="#8a5aa8" stroke-width="1.3" />
<polyline points="390.65,191.40 438.80,191.40 438.80,255.60 447.20,255.60 447.20,288.60" fill="none" stroke="#cc1f3c" stroke-width="1.1" />
<polyline points="390.65,191.00 424.50,191.00 424.50,224.10 432.80,224.10 432.80,256.00 447.80,256.00 447.80,288.60" fill="none" stroke="#cc1f3c" stroke-width="1.35" stroke-dasharray="2 2" stroke-dashoffset="0.5"/>
<polyline points="418.60,207.20 418.60,263.00 424.60,263.00 424.60,288.60" fill="none" stroke="#1d2f72" stroke-width="1.0" />
<polyline points="390.65,190.60 419.10,190.60 419.10,263.00 424.90,263.00 424.90,288.60" fill="none" stroke="#3f7fc0" stroke-width="0.9" stroke-dasharray="2 2" stroke-dashoffset="0.5"/>
<polyline points="390.65,190.30 442.60,190.30 442.60,214.80 448.00,214.80 448.00,238.90 460.20,238.90 460.20,262.80 468.30,262.80 468.30,288.60" fill="none" stroke="#3fb650" stroke-width="1.0" />
<polyline points="390.65,189.50 444.20,189.50 444.20,209.80 470.70,209.80 470.70,229.10 485.10,229.10 485.10,257.70 506.70,257.70 506.70,288.60" fill="none" stroke="#3fb650" stroke-width="1.35" stroke-dasharray="2 2" stroke-dashoffset="0.5"/>
<polygon points="429.60,263.10 430.14,264.45 431.60,264.55 430.48,265.49 430.83,266.90 429.60,266.12 428.37,266.90 428.72,265.49 427.60,264.55 429.06,264.45" fill="#1a5592"/>
<polygon points="429.60,276.90 430.14,278.25 431.60,278.35 430.48,279.29 430.83,280.70 429.60,279.92 428.37,280.70 428.72,279.29 427.60,278.35 429.06,278.25" fill="#1a5592"/>
<polygon points="451.30,263.40 451.84,264.75 453.30,264.85 452.18,265.79 452.53,267.20 451.30,266.42 450.07,267.20 450.42,265.79 449.30,264.85 450.76,264.75" fill="#cc1f3c"/>
<polygon points="451.30,277.10 451.84,278.45 453.30,278.55 452.18,279.49 452.53,280.90 451.30,280.12 450.07,280.90 450.42,279.49 449.30,278.55 450.76,278.45" fill="#cc1f3c"/>
<polygon points="471.30,277.10 471.84,278.45 473.30,278.55 472.18,279.49 472.53,280.90 471.30,280.12 470.07,280.90 470.42,279.49 469.30,278.55 470.76,278.45" fill="#3fb650"/>
<polygon points="475.50,277.10 476.04,278.45 477.50,278.55 476.38,279.49 476.73,280.90 475.50,280.12 474.27,280.90 474.62,279.49 473.50,278.55 474.96,278.45" fill="#3fb650"/>
<polygon points="490.80,247.40 491.34,248.75 492.80,248.85 491.68,249.79 492.03,251.20 490.80,250.42 489.57,251.20 489.92,249.79 488.80,248.85 490.26,248.75" fill="#3fb650"/>
<polygon points="495.00,247.40 495.54,248.75 497.00,248.85 495.88,249.79 496.23,251.20 495.00,250.42 493.77,251.20 494.12,249.79 493.00,248.85 494.46,248.75" fill="#3fb650"/>
<line x1="74.20" y1="356.20" x2="82.50" y2="356.20" stroke="#7d3f98" stroke-width="1.3" />
<line x1="78.35" y1="352.40" x2="78.35" y2="356.20" stroke="#7d3f98" stroke-width="1.1" />
<text x="85.80" y="357.70" font-size="7" text-anchor="start" fill="#231f20" stroke="#231f20" stroke-width="0.12" textLength="24.2" lengthAdjust="spacingAndGlyphs" >Vehicle</text>
<line x1="123.90" y1="356.20" x2="133.00" y2="356.20" stroke="#1a5592" stroke-width="1.3" />
<line x1="128.45" y1="352.40" x2="128.45" y2="356.20" stroke="#1a5592" stroke-width="1.1" />
<text x="135.70" y="357.70" font-size="7" text-anchor="start" fill="#231f20" stroke="#231f20" stroke-width="0.12" textLength="72.7" lengthAdjust="spacingAndGlyphs" >CD37-Ama 1 5 mg/kg</text>
<rect x="124.00" y="368.50" width="1.2" height="1.3" fill="#1a5592"/>
<rect x="127.85" y="368.50" width="1.2" height="1.3" fill="#1a5592"/>
<rect x="131.70" y="368.50" width="1.2" height="1.3" fill="#1a5592"/>
<line x1="128.45" y1="365.10" x2="128.45" y2="369.10" stroke="#1a5592" stroke-width="1.1" />
<text x="135.70" y="370.80" font-size="7" text-anchor="start" fill="#231f20" stroke="#231f20" stroke-width="0.12" textLength="79.4" lengthAdjust="spacingAndGlyphs" >CD37-Ama 1 2.5 mg/kg</text>
<line x1="229.20" y1="356.20" x2="237.80" y2="356.20" stroke="#3fb650" stroke-width="1.3" />
<line x1="233.50" y1="352.40" x2="233.50" y2="356.20" stroke="#3fb650" stroke-width="1.1" />
<text x="241.20" y="357.70" font-size="7" text-anchor="start" fill="#231f20" stroke="#231f20" stroke-width="0.12" textLength="76.9" lengthAdjust="spacingAndGlyphs" >CD37-Ama 2 10 mg/kg</text>
<rect x="229.30" y="368.50" width="1.2" height="1.3" fill="#3fb650"/>
<rect x="232.90" y="368.50" width="1.2" height="1.3" fill="#3fb650"/>
<rect x="236.50" y="368.50" width="1.2" height="1.3" fill="#3fb650"/>
<line x1="233.50" y1="365.10" x2="233.50" y2="369.10" stroke="#3fb650" stroke-width="1.1" />
<text x="241.20" y="370.80" font-size="7" text-anchor="start" fill="#231f20" stroke="#231f20" stroke-width="0.12" textLength="73.0" lengthAdjust="spacingAndGlyphs" >CD37-Ama 2 5 mg/kg</text>
<line x1="332.70" y1="356.20" x2="341.20" y2="356.20" stroke="#cc1f3c" stroke-width="1.3" />
<line x1="336.95" y1="352.40" x2="336.95" y2="356.20" stroke="#cc1f3c" stroke-width="1.1" />
<text x="347.20" y="357.70" font-size="7" text-anchor="start" fill="#231f20" stroke="#231f20" stroke-width="0.12" textLength="77.1" lengthAdjust="spacingAndGlyphs" >CD37-Ama 3 40 mg/kg</text>
<rect x="332.80" y="368.50" width="1.2" height="1.3" fill="#cc1f3c"/>
<rect x="336.35" y="368.50" width="1.2" height="1.3" fill="#cc1f3c"/>
<rect x="339.90" y="368.50" width="1.2" height="1.3" fill="#cc1f3c"/>
<line x1="336.95" y1="365.10" x2="336.95" y2="369.10" stroke="#cc1f3c" stroke-width="1.1" />
<text x="347.20" y="370.80" font-size="7" text-anchor="start" fill="#231f20" stroke="#231f20" stroke-width="0.12" textLength="77.1" lengthAdjust="spacingAndGlyphs" >CD37-Ama 3 20 mg/kg</text>
<rect x="0" y="0" width="1.3" height="378" fill="#000"/><rect x="0" y="0" width="520" height="1.2" fill="#000"/><rect x="518.5" y="0" width="1.5" height="378" fill="#000"/><rect x="0" y="376.5" width="520" height="1.5" fill="#000"/>
</svg></body></html>
